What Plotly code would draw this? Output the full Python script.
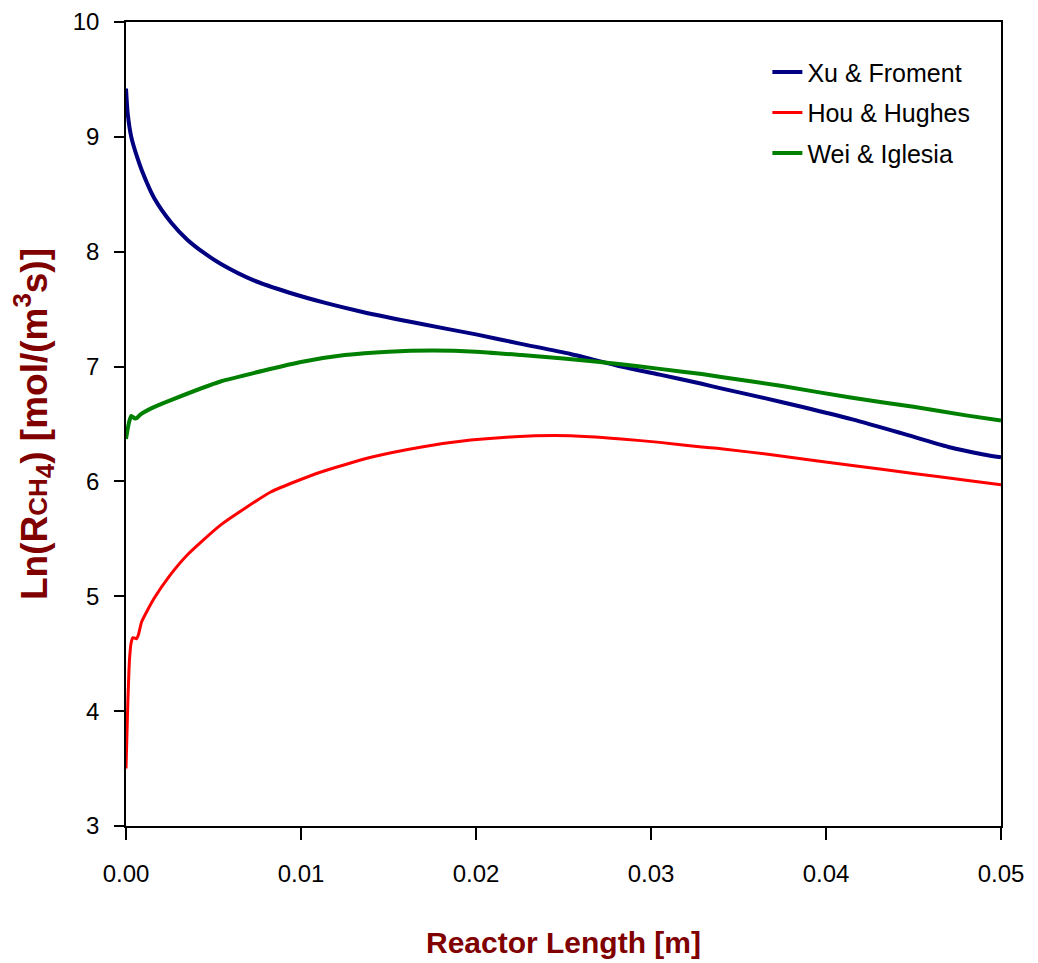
import plotly.graph_objects as go

# Data
xu_x = [0.0, 0.0001, 0.0003, 0.0006, 0.0009, 0.0016, 0.0026, 0.0035, 0.0045, 0.0054,
        0.0073, 0.0093, 0.0115, 0.0134, 0.0169, 0.02, 0.0225, 0.0254, 0.0283, 0.0305,
        0.0329, 0.034, 0.0365, 0.0386, 0.0415, 0.0443, 0.047, 0.049, 0.05]
xu_y = [9.42, 9.2, 9.0, 8.84, 8.71, 8.47, 8.25, 8.105, 7.985, 7.895,
        7.75, 7.645, 7.55, 7.48, 7.37, 7.28, 7.2, 7.11, 7.0, 6.93,
        6.85, 6.81, 6.725, 6.65, 6.54, 6.42, 6.30, 6.235, 6.21]

hou_x = [0.0, 0.0001, 0.0002, 0.0003, 0.0004, 0.0006, 0.0007, 0.0009, 0.0016, 0.0025,
         0.0035, 0.0054, 0.0083, 0.0111, 0.014, 0.0169, 0.0197, 0.0222, 0.0245, 0.0265,
         0.0283, 0.0305, 0.0329, 0.034, 0.037, 0.0414, 0.045, 0.048, 0.05]
hou_y = [3.5, 4.05, 4.45, 4.6, 4.64, 4.63, 4.66, 4.78, 4.98, 5.18,
         5.36, 5.62, 5.91, 6.08, 6.21, 6.3, 6.36, 6.39, 6.4, 6.39,
         6.37, 6.34, 6.3, 6.285, 6.23, 6.14, 6.07, 6.01, 5.97]

wei_x = [0.0, 0.0001, 0.0002, 0.0003, 0.0005, 0.0006, 0.0008, 0.0015, 0.0026, 0.0054,
         0.008, 0.01, 0.0125, 0.015, 0.0175, 0.02, 0.0226, 0.025, 0.0283, 0.0305,
         0.0329, 0.034, 0.0375, 0.0414, 0.045, 0.048, 0.05]
wei_y = [6.37, 6.46, 6.53, 6.57, 6.55, 6.55, 6.58, 6.64, 6.71, 6.87,
         6.97, 7.04, 7.1, 7.13, 7.14, 7.13, 7.10, 7.07, 7.02, 6.98,
         6.935, 6.91, 6.83, 6.73, 6.65, 6.575, 6.53]

series_names = ["Xu & Froment", "Hou & Hughes", "Wei & Iglesia"]
x_ticks = [0.0, 0.01, 0.02, 0.03, 0.04, 0.05]
x_tick_labels = ["0.00", "0.01", "0.02", "0.03", "0.04", "0.05"]
y_ticks = [3, 4, 5, 6, 7, 8, 9, 10]

FONT = "Liberation Sans, Arial, sans-serif"
TITLE_COLOR = "#800000"

fig = go.Figure()
fig.add_trace(go.Scatter(x=xu_x, y=xu_y, mode="lines", name=series_names[0],
                         legendgroup="a",
                         line=dict(color="#000080", width=4, shape="spline", smoothing=0.7)))
fig.add_trace(go.Scatter(x=hou_x, y=hou_y, mode="lines", name=series_names[1],
                         legendgroup="b",
                         line=dict(color="#FF0000", width=3, shape="spline", smoothing=0.5)))
fig.add_trace(go.Scatter(x=wei_x, y=wei_y, mode="lines", name=series_names[2],
                         legendgroup="c",
                         line=dict(color="#008000", width=4, shape="spline", smoothing=0.5)))

fig.update_layout(
    width=1038, height=963,
    margin=dict(l=118, r=45, t=14, b=145),
    paper_bgcolor="white", plot_bgcolor="white",
    font=dict(family=FONT, size=24, color="black"),
    showlegend=True,
    legend=dict(x=0.733, y=0.966, xanchor="left", yanchor="top",
                font=dict(family=FONT, size=25, color="black"),
                bgcolor="rgba(0,0,0,0)", tracegroupgap=5),
    xaxis=dict(
        range=[0, 0.05], tickvals=x_ticks, ticktext=x_tick_labels,
        automargin=False,
        showgrid=False, zeroline=False, showline=True, linecolor="black", linewidth=1.5,
        mirror=True, ticks="outside", ticklen=12, tickwidth=1.5, tickcolor="black",
        ticklabelstandoff=13,
        tickfont=dict(family=FONT, size=24, color="black"),
        title=dict(text="<b>Reactor Length [m]</b>",
                   font=dict(family=FONT, size=30, color=TITLE_COLOR), standoff=46),
    ),
    yaxis=dict(
        range=[3, 10], tickvals=y_ticks,
        automargin=False,
        showgrid=False, zeroline=False, showline=True, linecolor="black", linewidth=1.5,
        mirror=True, ticks="outside", ticklen=10, tickwidth=1.5, tickcolor="black",
        ticklabelstandoff=10,
        tickfont=dict(family=FONT, size=24, color="black"),
        title=dict(text="<b>Ln(R<span style='font-size:26px'>CH</span><sub>4</sub>) [mol/(m<sup>3</sup>s)]</b>",
                   font=dict(family=FONT, size=37, color=TITLE_COLOR), standoff=20),
    ),
)

fig.write_html("out.html")
